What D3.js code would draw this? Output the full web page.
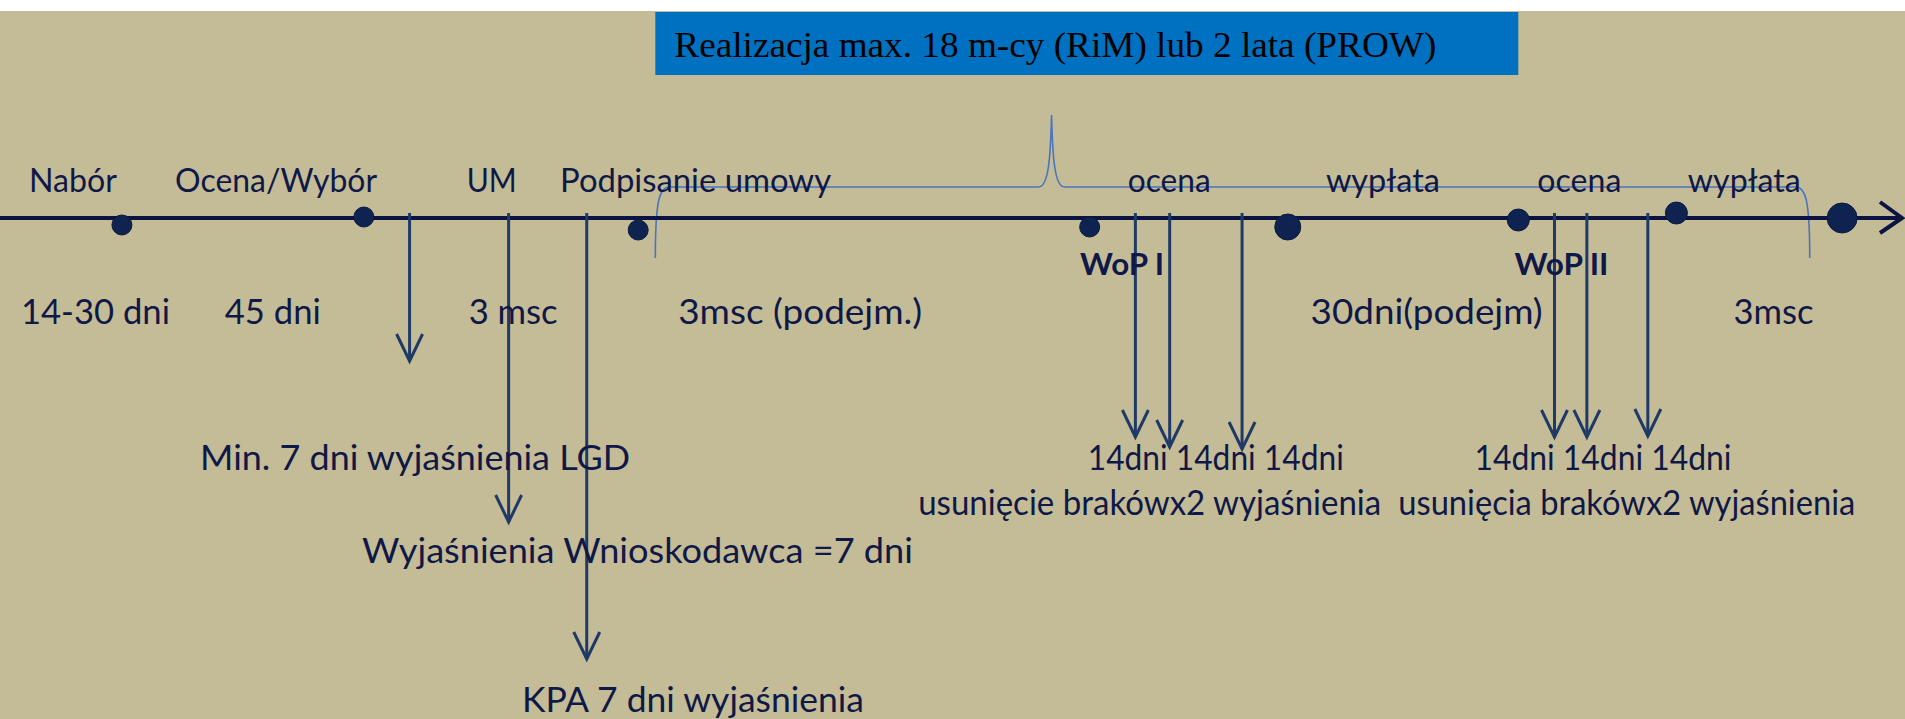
<!DOCTYPE html>
<html>
<head>
<meta charset="utf-8">
<script src="https://cdn.jsdelivr.net/npm/d3@7"></script>
<style>
  body { margin: 0; background: #fff; overflow: hidden; }
</style>
</head>
<body>
<div id="chart"></div>
<script>
// timeline positions are in % of slide width (0..100)
const title = 'Realizacja max. 18 m-cy (RiM) lub 2 lata (PROW)'
const titleSpan = [34.4, 79.7]

const stageNames = ['Nabór', 'Ocena/Wybór', 'UM', 'Podpisanie umowy', 'ocena', 'wypłata', 'ocena', 'wypłata']
const stageAt = [1.52, 9.19, 24.5, 29.4, 59.2, 69.6, 80.7, 88.6]

const durations = ['14-30 dni', '45 dni', '3 msc', '3msc (podejm.)', '30dni(podejm)', '3msc']
const durationAt = [1.1, 11.8, 24.6, 35.6, 68.8, 91.0]

const milestoneAt = [6.4, 19.1, 33.5, 57.2, 67.6, 79.7, 88.0, 96.7]

const wopNames = ['WoP I', 'WoP II']
const wopAt = [56.7, 79.5]

// down arrows: where they leave the line and how deep they go (px below line)
const arrowAt = [21.5, 26.7, 30.8, 59.6, 61.4, 65.2, 81.6, 83.3, 86.5]
const arrowDepth = [143, 304, 441, 219, 229, 231, 219, 219, 218]

const notes = [
  'Min. 7 dni wyjaśnienia LGD',
  'Wyjaśnienia Wnioskodawca =7 dni',
  'KPA 7 dni wyjaśnienia',
  '14dni 14dni 14dni',
  '14dni 14dni 14dni',
  'usunięcie brakówx2 wyjaśnienia',
  'usunięcia brakówx2 wyjaśnienia'
]
const noteAt = [10.5, 19.0, 27.4, 57.1, 77.4, 48.2, 73.4]
const noteDepth = [252, 345, 494, 252, 252, 297, 297]

// brace over the realisation period: start, peak, end
const braceAt = [34.4, 55.2, 95.0]

const W = 1905, H = 719
const lineY = 218
const ink = '#0f1846'

const x = d3.scaleLinear().domain([0, 100]).range([0, W])
const depth = d3.scaleLinear().domain([0, 500]).range([lineY, lineY + 500])

const svg = d3.select('#chart')
  .append('svg')
    .attr('width', W)
    .attr('height', H)

svg.append('rect')
  .attr('width', W).attr('height', H)
  .attr('fill', '#c4bc97')
svg.append('rect')
  .attr('width', W).attr('height', 11)
  .attr('fill', '#fff')

// title box
svg.append('rect')
  .attr('x', x(titleSpan[0]))
  .attr('y', 12)
  .attr('width', x(titleSpan[1]) - x(titleSpan[0]))
  .attr('height', 63)
  .attr('fill', '#0070c0')
svg.append('text')
  .attr('x', x(titleSpan[0]) + 19)
  .attr('y', 57)
  .attr('textLength', 762)
  .attr('lengthAdjust', 'spacingAndGlyphs')
  .style('font-family', '"Liberation Serif", "DejaVu Serif", serif')
  .style('font-size', '36px')
  .style('fill', '#000')
  .text(title)

// brace
const [b0, bp, b1] = braceAt.map(x)
const braceTop = 187, braceBottom = 258, bracePeak = 115
svg.append('path')
  .attr('d', `M${b0},${braceBottom} C${b0},${braceTop + 14} ${b0 + 4},${braceTop} ${b0 + 14},${braceTop}
    L${bp - 13},${braceTop} C${bp - 3},${braceTop} ${bp - 1},${braceTop - 30} ${bp},${bracePeak}
    C${bp + 1},${braceTop - 30} ${bp + 3},${braceTop} ${bp + 13},${braceTop}
    L${b1 - 14},${braceTop} C${b1 - 4},${braceTop} ${b1},${braceTop + 14} ${b1},${braceBottom}`)
  .attr('fill', 'none')
  .attr('stroke', '#4a74bd')
  .attr('stroke-width', 1.6)

// main timeline
svg.append('line')
  .attr('x1', 0).attr('x2', W - 4)
  .attr('y1', lineY).attr('y2', lineY)
  .attr('stroke', '#0b1342')
  .attr('stroke-width', 4)
svg.append('path')
  .attr('d', `M${W - 25},${lineY - 16} L${W - 3},${lineY} L${W - 25},${lineY + 15}`)
  .attr('fill', 'none')
  .attr('stroke', '#0b1342')
  .attr('stroke-width', 4)

// down arrows
const arrows = svg.append('g')
  .attr('id', 'arrows')
  .style('stroke', '#1f3a66')
  .style('stroke-width', 3)
  .style('fill', 'none')
arrows.selectAll('line')
  .data(arrowAt)
  .enter()
  .append('line')
    .attr('x1', d => x(d)).attr('x2', d => x(d))
    .attr('y1', lineY - 5)
    .attr('y2', (d, i) => depth(arrowDepth[i]))
arrows.selectAll('path')
  .data(arrowAt)
  .enter()
  .append('path')
    .attr('d', (d, i) => {
      const tx = x(d), ty = depth(arrowDepth[i])
      return `M${tx - 13},${ty - 27} L${tx},${ty} L${tx + 13},${ty - 27}`
    })

// milestone dots (slightly off the line as on the slide)
const dotShift = [7, -1, 12, 9, 9, 2, -5, 0]
const dotR = [10, 10, 10, 10, 13, 11, 11, 15]
svg.append('g')
  .attr('id', 'dots')
  .selectAll('circle')
  .data(milestoneAt)
  .enter()
  .append('circle')
    .attr('cx', d => x(d))
    .attr('cy', (d, i) => lineY + dotShift[i])
    .attr('r', (d, i) => dotR[i])
    .attr('fill', '#0f2350')
    .attr('stroke', '#0a1a40')
    .attr('stroke-width', 1)

function label(g, texts, at, y, size, widths, weight) {
  g.selectAll('text')
    .data(texts)
    .enter()
    .append('text')
      .attr('x', (d, i) => x(at[i]))
      .attr('y', (d, i) => typeof y === 'function' ? y(i) : y)
      .attr('textLength', (d, i) => widths[i])
      .attr('lengthAdjust', 'spacingAndGlyphs')
      .style('font-family', 'Lato, "Open Sans", sans-serif')
      .style('font-size', size + 'px')
      .style('font-weight', weight || 400)
      .style('fill', ink)
      .text(d => d)
}

label(svg.append('g').attr('id', 'stages'), stageNames, stageAt, 192, 32,
  [88, 202, 50, 271, 83, 114, 84, 113])
label(svg.append('g').attr('id', 'durations'), durations, durationAt, 324, 35,
  [149, 96, 89, 244, 232, 80])
label(svg.append('g').attr('id', 'wop'), wopNames, wopAt, 275, 30,
  [84, 94], 700)
label(svg.append('g').attr('id', 'notes'), notes, noteAt, i => depth(noteDepth[i]), 34,
  [430, 551, 342, 256, 257, 463, 457])
</script>
</body>
</html>
